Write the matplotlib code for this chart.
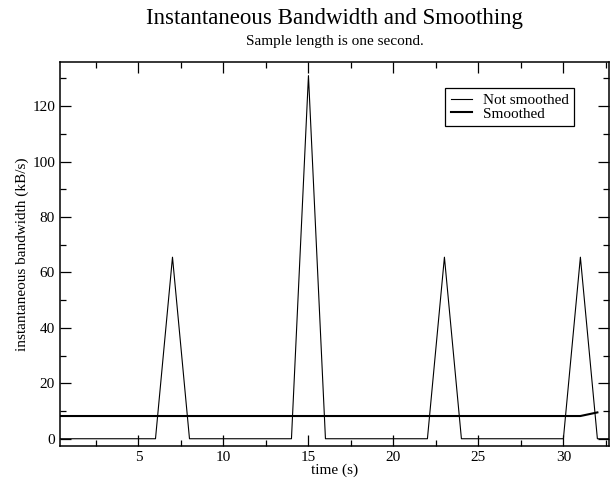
import matplotlib.pyplot as plt
from matplotlib.ticker import MultipleLocator

plt.rcParams['font.family'] = ['Liberation Serif', 'DejaVu Serif']

# время (с) и мгновенная полоса без сглаживания
t_raw = [0, 1, 2, 3, 4, 5, 6, 7, 8, 9, 10, 11, 12, 13, 14, 15, 16,
         17, 18, 19, 20, 21, 22, 23, 24, 25, 26, 27, 28, 29, 30, 31, 32, 33]
bw_raw = [0, 0, 0, 0, 0, 0, 0, 65.5, 0, 0, 0, 0, 0, 0, 0, 131, 0,
          0, 0, 0, 0, 0, 0, 65.5, 0, 0, 0, 0, 0, 0, 0, 65.5, 0, 0]

# сглаженная полоса
t_smooth = [0, 1, 2, 3, 4, 5, 6, 7, 8, 9, 10, 11, 12, 13, 14, 15, 16,
            17, 18, 19, 20, 21, 22, 23, 24, 25, 26, 27, 28, 29, 30, 31, 32]
bw_smooth = [8.2, 8.2, 8.2, 8.2, 8.2, 8.2, 8.2, 8.2, 8.2, 8.2, 8.2, 8.2,
             8.2, 8.2, 8.2, 8.2, 8.2, 8.2, 8.2, 8.2, 8.2, 8.2, 8.2, 8.2,
             8.2, 8.2, 8.2, 8.2, 8.2, 8.2, 8.2, 8.2, 9.5]

fig = plt.figure(figsize=(6.12, 4.79), dpi=100)
ax = fig.add_axes([0.098, 0.069, 0.897, 0.802])

ax.plot(t_raw, bw_raw, color='black', lw=0.8, label='Not smoothed')
ax.plot(t_smooth, bw_smooth, color='black', lw=1.5, label='Smoothed')

ax.set_xlim(0.38, 32.68)
ax.set_ylim(-2.6, 136)

ax.xaxis.set_major_locator(MultipleLocator(5))
ax.xaxis.set_minor_locator(MultipleLocator(2.5))
ax.yaxis.set_major_locator(MultipleLocator(20))
ax.yaxis.set_minor_locator(MultipleLocator(10))
ax.tick_params(which='both', direction='in', top=True, right=True, width=0.9)
ax.tick_params(which='major', length=8, labelsize=11)
ax.tick_params(which='minor', length=4)
for s in ax.spines.values():
    s.set_linewidth(1.1)

ax.set_xlabel('time (s)', fontsize=11, labelpad=0)
ax.set_ylabel('instantaneous bandwidth (kB/s)', fontsize=11)
ax.yaxis.set_label_coords(-0.0565, 0.5)

# заголовок по центру области графика
xc = 0.098 + 0.897 / 2
fig.text(xc, 0.962, 'Instantaneous Bandwidth and Smoothing', ha='center',
         va='center', fontsize=16.5)
fig.text(xc, 0.914, 'Sample length is one second.', ha='center',
         va='center', fontsize=11)

leg = ax.legend(loc='upper right', bbox_to_anchor=(0.936, 0.932), fontsize=11,
                fancybox=False, edgecolor='black', framealpha=1,
                handlelength=1.37, handletextpad=0.72, borderpad=0.35,
                labelspacing=0.0, borderaxespad=0)
leg.get_frame().set_linewidth(0.9)

plt.savefig('out.png')
